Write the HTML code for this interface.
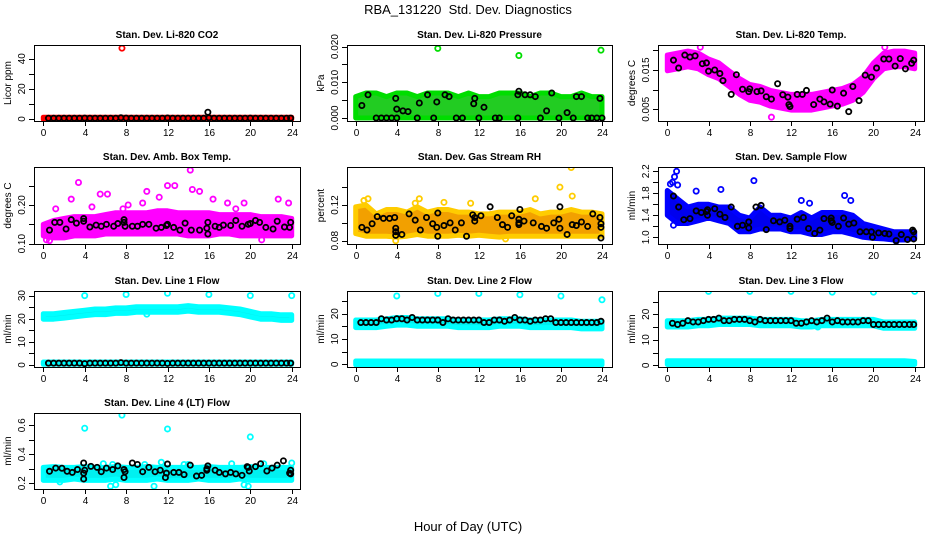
<!DOCTYPE html>
<html><head><meta charset="utf-8"><style>
html,body{margin:0;padding:0;background:#fff}
svg{display:block;font-family:"Liberation Sans",Arial,sans-serif}
</style></head><body>
<svg id="chart" width="936" height="540" viewBox="0 0 936 540">
<text x="468" y="14" text-anchor="middle" font-size="13">RBA_131220&#160; Std. Dev. Diagnostics</text>
<text x="468" y="531" text-anchor="middle" font-size="13">Hour of Day (UTC)</text>
</svg>
<script>
// ---------- data ----------
const hours = [0,1,2,3,4,5,6,7,8,9,10,11,12,13,14,15,16,17,18,19,20,21,22,23,24];
const halfHours = [0.5,1,1.5,2,2.5,3,3.5,4,4.5,5,5.5,6,6.5,7,7.5,8,8.5,9,9.5,10,10.5,11,11.5,12,12.5,13,13.5,14,14.5,15,15.5,16,16.5,17,17.5,18,18.5,19,19.5,20,20.5,21,21.5,22,22.5,23,23.5,23.9];
const xTicks = [0,4,8,12,16,20,24];

// CO2
const co2Lo = [-0.3,-0.3,-0.3,-0.3,-0.3,-0.3,-0.3,-0.3,-0.3,-0.3,-0.3,-0.3,-0.3,-0.3,-0.3,-0.3,-0.3,-0.3,-0.3,-0.3,-0.3,-0.3,-0.3,-0.3,-0.3];
const co2Hi = [1.2,1.2,1.2,1.2,1.2,1.2,1.2,1.2,1.2,1.2,1.2,1.2,1.2,1.2,1.2,1.2,1.2,1.2,1.2,1.2,1.2,1.2,1.2,1.2,1.2];
const co2OutX = [7.6]; const co2OutY = [47];
const co2BlackX = halfHours.concat([15.9]);
const co2BlackY = [0.5,0.5,0.5,0.5,0.5,0.5,0.5,0.6,0.5,0.5,0.5,0.5,0.5,0.5,0.8,0.6,0.5,0.5,0.5,0.5,0.5,0.5,0.5,0.7,0.5,0.5,0.5,0.5,0.5,0.5,0.5,0.8,0.5,0.5,0.5,0.5,0.5,0.5,0.5,0.6,0.5,0.5,0.5,0.5,0.5,0.5,0.5,0.6,4.5];

// Pressure
const prLo = [0,0,0,0,0,0,0,0,0,0,0,0,0,0,0,0,0,0,0,0,0,0,0,0,0];
const prHi = [0.006,0.007,0.007,0.006,0.007,0.007,0.006,0.007,0.007,0.007,0.006,0.007,0.006,0.006,0.007,0.007,0.007,0.006,0.007,0.007,0.006,0.006,0.007,0.006,0.006];
const prOutX = [8,15.9,23.9]; const prOutY = [0.0195,0.0175,0.019];
const prBlackX = [2,2.5,3,3.5,4,6,7.6,9.8,10.4,12,13.6,14,15.8,18,19.8,21.2,22.6,23,23.5,24,0.6,1.2,3.9,4,4.6,5.1,6.2,7,7.9,8.7,9.1,11.5,11.6,12.5,15.9,15.8,16.5,17,17.5,18.6,19.1,20.6,21.5,22,23.8];
const prBlackY = [0,0,0,0,0,0,0,0,0,0,0,0,0,0,0,0,0,0,0,0,0.0035,0.0065,0.0055,0.0025,0.002,0.0018,0.0042,0.0065,0.0045,0.0065,0.006,0.004,0.0055,0.003,0.0075,0.0065,0.0065,0.0065,0.006,0.002,0.007,0.0015,0.006,0.006,0.0055];

// Li-820 temp
const ltLo = [0.0148,0.0153,0.0158,0.0153,0.0138,0.0128,0.0108,0.0088,0.0073,0.0068,0.0058,0.0053,0.0048,0.0048,0.0048,0.0053,0.0058,0.0063,0.0073,0.0093,0.0128,0.0153,0.0158,0.0158,0.0153];
const ltHi = [0.0188,0.0193,0.0198,0.0193,0.0178,0.0168,0.0148,0.0128,0.0113,0.0108,0.0098,0.0093,0.0088,0.0088,0.0088,0.0093,0.0098,0.0103,0.0113,0.0133,0.0168,0.0193,0.0198,0.0198,0.0193];
const ltOutX = [10.1,3.2,21.1]; const ltOutY = [0.003,0.0208,0.0208];
const ltBlackX = [0.6,1.1,1.7,2.2,2.7,3.4,3.8,4,4.6,5.1,5.4,6.2,6.7,7.3,7.9,8,8.7,9.1,9.6,10.1,10.7,11.2,11.7,11.8,11.9,12.6,13.1,13.5,14.2,14.8,15.2,15.8,16,16.5,17.1,17.6,18,18.6,19.2,19.8,20.3,21,21.5,22.1,22.6,23.1,23.7,23.9];
const ltBlackY = [0.0175,0.0155,0.0188,0.0183,0.0186,0.0166,0.0168,0.0147,0.015,0.0141,0.0123,0.0088,0.0138,0.0101,0.0095,0.0102,0.0095,0.0097,0.0082,0.0076,0.0115,0.0087,0.0081,0.0062,0.0057,0.0088,0.0088,0.0098,0.0062,0.0076,0.0069,0.0063,0.0099,0.0058,0.0091,0.0044,0.0108,0.0072,0.0137,0.0132,0.0155,0.0178,0.0178,0.016,0.0179,0.0153,0.0167,0.0175];

// Amb box temp
const abLo = [0.12,0.115,0.115,0.12,0.12,0.12,0.125,0.125,0.125,0.125,0.125,0.125,0.125,0.125,0.12,0.12,0.12,0.125,0.125,0.12,0.12,0.12,0.12,0.12,0.12];
const abHi = [0.15,0.16,0.165,0.17,0.17,0.17,0.175,0.18,0.18,0.18,0.18,0.185,0.185,0.18,0.18,0.18,0.18,0.175,0.175,0.175,0.175,0.17,0.17,0.17,0.165];
const abOutX = [3.4,14.2,5.5,6.2,10,12,12.7,14.4,15.1,2.7,0.3,7.7,9.6,22.7,23.7,19.4,17.8,21.1,0.6,1.2,4.7,8.2,11.2,16.4,18.6];
const abOutY = [0.258,0.29,0.228,0.228,0.235,0.25,0.25,0.24,0.235,0.215,0.11,0.19,0.205,0.215,0.205,0.205,0.205,0.11,0.108,0.19,0.195,0.2,0.22,0.215,0.19];
const abBlackX = [0.6,1.1,1.6,2.2,2.7,3.2,3.9,3.9,4.5,5.1,5.6,6.1,6.8,7.2,7.8,7.8,7.9,8.6,9.1,9.6,10.2,10.9,11.4,11.9,12,12.6,13.2,13.7,14.3,15.1,15.8,15.9,15.9,16.6,17,17.4,18.1,18.6,19.2,19.8,20,20.5,20.9,21.5,22.2,22.6,23.3,23.9,23.8];
const abBlackY = [0.135,0.155,0.155,0.138,0.162,0.153,0.165,0.158,0.143,0.148,0.145,0.15,0.145,0.152,0.162,0.155,0.145,0.145,0.145,0.15,0.15,0.14,0.142,0.147,0.15,0.142,0.135,0.153,0.135,0.135,0.14,0.155,0.125,0.145,0.142,0.148,0.147,0.16,0.145,0.15,0.152,0.16,0.155,0.142,0.138,0.158,0.143,0.155,0.142];

// RH
const rhLo = [0.088,0.085,0.085,0.085,0.084,0.085,0.087,0.085,0.085,0.085,0.086,0.085,0.086,0.085,0.084,0.085,0.085,0.085,0.085,0.085,0.085,0.085,0.085,0.085,0.085];
const rhHi = [0.118,0.12,0.11,0.115,0.115,0.112,0.118,0.112,0.115,0.115,0.112,0.112,0.11,0.11,0.112,0.112,0.112,0.115,0.11,0.112,0.112,0.115,0.112,0.112,0.11];
const rhOutX = [0.8,6.2,21,19.9,21.1,17.5,14.6,3.9,11.2,8.6,1.2,5.8];
const rhOutY = [0.125,0.127,0.162,0.14,0.13,0.127,0.082,0.08,0.122,0.123,0.127,0.122];
const rhBlackX = [0.6,1.1,1.6,2.1,2.7,3.3,3.8,3.9,3.9,3.9,4.5,5.2,5.8,6.3,6.9,7.5,7.9,8,8,8.6,9.2,9.7,10.3,10.8,11.4,11.6,11.6,12.2,13.1,13.8,14.3,14.8,15.2,15.9,15.9,15.9,16,16.4,17.3,18.1,18.6,19.3,19.8,19.9,19.9,20.6,21.1,21.5,22,22.6,23.1,23.8,23.9,23.9,23.9];
const rhBlackY = [0.095,0.092,0.099,0.107,0.105,0.105,0.106,0.094,0.086,0.09,0.087,0.11,0.103,0.092,0.106,0.099,0.095,0.111,0.085,0.097,0.1,0.092,0.1,0.085,0.109,0.106,0.102,0.108,0.118,0.106,0.098,0.095,0.108,0.104,0.1,0.098,0.115,0.102,0.1,0.096,0.094,0.1,0.104,0.118,0.094,0.087,0.098,0.097,0.101,0.096,0.11,0.106,0.099,0.095,0.083];

// Sample flow
const sfLo = [1.4,1.25,1.25,1.3,1.35,1.3,1.25,1.1,1.1,1.15,1.15,1.15,1.1,1.1,1.05,1.05,1.1,1.1,1.05,1.0,0.98,0.97,0.95,0.95,0.98];
const sfHi = [1.85,1.7,1.55,1.6,1.6,1.55,1.55,1.4,1.35,1.55,1.4,1.4,1.35,1.45,1.35,1.45,1.45,1.45,1.4,1.25,1.2,1.15,1.1,1.1,1.1];
const sfOutX = [0.7,0.9,8.4,5.2,2.8,13,13.8,17.2,17.8,0.6,22.2,0.3,0.5,1.0];
const sfOutY = [2.1,2.2,2.03,1.87,1.84,1.67,1.62,1.76,1.67,1.22,0.93,1.97,2.0,1.95];
const sfBlackX = [0.6,1.1,1.6,2.2,2.8,3.3,3.8,3.9,3.9,4.6,5.1,5.6,6.2,6.8,7.3,7.9,7.9,8.6,9.1,9.6,10.3,10.9,11.4,11.9,11.9,12.6,13.2,13.7,14.3,14.8,15.2,15.9,15.9,16,16.6,17.1,17.6,18.1,18.7,19.3,19.8,19.9,20.5,21.1,21.5,22.2,22.7,23.3,23.8,23.9,23.9];
const sfBlackY = [1.75,1.55,1.32,1.34,1.48,1.45,1.47,1.5,1.4,1.52,1.42,1.36,1.55,1.2,1.22,1.28,1.17,1.55,1.58,1.14,1.3,1.28,1.31,1.2,1.16,1.33,1.36,1.16,1.07,1.13,1.34,1.35,1.3,1.27,1.2,1.35,1.24,1.26,1.1,1.1,1.1,1.0,1.08,1.07,1.06,0.94,1.05,0.96,1.13,1.1,0.97];

// Line 1
const l1Lo = [19.8,19.8,20.3,20.8,21.3,21.8,21.8,22.3,22.3,22.8,22.8,22.8,22.8,22.8,23.3,22.8,22.8,22.8,22.3,21.8,20.8,19.8,19.8,19.3,19.3];
const l1Hi = [22.2,22.2,22.7,23.2,23.7,24.2,24.2,24.7,24.7,25.2,25.2,25.2,25.2,25.2,25.7,25.2,25.2,25.2,24.7,24.2,23.2,22.2,22.2,21.7,21.7];
const l1Lo2 = [0.3,0.3,0.3,0.3,0.3,0.3,0.3,0.3,0.3,0.3,0.3,0.3,0.3,0.3,0.3,0.3,0.3,0.3,0.3,0.3,0.3,0.3,0.3,0.3,0.3];
const l1Hi2 = [1.3,1.3,1.3,1.3,1.3,1.3,1.3,1.3,1.3,1.3,1.3,1.3,1.3,1.3,1.3,1.3,1.3,1.3,1.3,1.3,1.3,1.3,1.3,1.3,1.3];
const l1OutX = [4,8,12,16,20,24,10]; const l1OutY = [30,30.5,31,30.5,30,30,22];
const l1BlackX = halfHours;
const l1BlackY = [0.8,0.8,0.8,0.8,0.8,0.8,0.8,0.6,0.8,0.8,0.8,0.8,0.8,0.8,1.0,0.8,0.8,0.8,0.8,0.8,0.8,0.8,0.8,0.7,0.8,0.8,0.8,0.8,0.8,0.8,0.8,0.8,0.8,0.8,0.8,0.8,0.8,0.8,0.8,0.8,0.8,0.8,0.8,0.8,0.8,0.8,0.8,0.8];

// Line 2
const l2Lo = [14.5,14.5,14.5,15,15.5,15.5,15,15,15,15,14.5,14.5,14.5,14.5,15,15,15,14.5,14.5,14.5,14.5,14.5,14,14,14];
const l2Hi = [17.5,17.5,17.5,18,18.5,18.5,18,18,18,18,17.5,17.5,17.5,17.5,18,18,18,17.5,17.5,17.5,17.5,17.5,17,17,17];
const l2Lo2 = [-0.2,-0.2,-0.2,-0.2,-0.2,-0.2,-0.2,-0.2,-0.2,-0.2,-0.2,-0.2,-0.2,-0.2,-0.2,-0.2,-0.2,-0.2,-0.2,-0.2,-0.2,-0.2,-0.2,-0.2,-0.2];
const l2Hi2 = [1.3,1.3,1.3,1.3,1.3,1.3,1.3,1.3,1.3,1.3,1.3,1.3,1.3,1.3,1.3,1.3,1.3,1.3,1.3,1.3,1.3,1.3,1.3,1.3,1.3];
const l2OutX = [4,8,12,16,20,24]; const l2OutY = [27,28,28,27.5,27,25.5];
const l2BlackX = halfHours;
const l2BlackY = [16.5,16.5,16.5,16.5,18,17.5,17.5,18,18,17.5,18.5,17.5,17.5,17.5,17.5,17.5,16.5,18,17.5,17.5,17.5,17.5,17.5,17.5,16.5,16.5,17.5,17.5,17,17.5,18.5,17.5,17.5,17,17.5,17.5,18,18,16.5,16.5,16.5,16.5,16.5,16.5,16.5,16.5,16.5,17];

// Line 3
const l3Lo = [15,15,15,15.5,15.5,16,16,16,16,15.5,15.5,15.5,15.5,15,15,15.5,15.5,15.5,15.5,15.5,15.5,14.5,14.5,14.5,14.5];
const l3Hi = [17.5,17.5,17.5,18,18,18.5,18.5,18.5,18.5,18,18,18,18,17.5,17.5,18,18,18,18,18,18,17,17,17,17];
const l3Lo2 = [0.3,0.3,0.3,0.3,0.3,0.3,0.3,0.3,0.3,0.3,0.3,0.3,0.3,0.3,0.3,0.3,0.3,0.3,0.3,0.3,0.3,0.3,0.3,0.3,0.3];
const l3Hi2 = [1.8,1.8,1.8,1.8,1.8,1.8,1.8,1.8,1.8,1.8,1.8,1.8,1.8,1.8,1.8,1.8,1.8,1.8,1.8,1.8,1.8,1.8,1.8,1.8,1.5];
const l3OutX = [4,8,12,16,20,24,14.6]; const l3OutY = [29,29,29,28.7,28.7,29,15];
const l3BlackX = halfHours;
const l3BlackY = [16.5,16,16.5,17.5,17,17,17.5,18,18,18.5,17.5,17.5,18,18,18,17.5,17,18,17.5,17.5,17.5,17.5,17.5,17.5,16.5,16.5,17,17.5,17,17.5,18.5,17,17.5,17,17,17,17,17.5,17.5,16,16,16,16,16,16,16,16,16];

// Line 4
const l4Lo = [0.22,0.22,0.22,0.23,0.22,0.22,0.22,0.23,0.22,0.22,0.22,0.23,0.22,0.22,0.22,0.23,0.22,0.22,0.22,0.23,0.22,0.22,0.22,0.22,0.22];
const l4Hi = [0.31,0.315,0.31,0.31,0.315,0.31,0.31,0.315,0.31,0.31,0.315,0.31,0.31,0.31,0.31,0.31,0.315,0.31,0.31,0.31,0.315,0.31,0.31,0.31,0.31];
const l4OutX = [4,7.6,12,20,5.8,6.7,9.8,14,18.2,21.3,24,6.5,7,10.7,19.4,19.8,1.6,11.4,13.6];
const l4OutY = [0.58,0.67,0.575,0.52,0.335,0.33,0.33,0.33,0.335,0.335,0.34,0.18,0.19,0.18,0.19,0.18,0.21,0.345,0.33];
const l4BlackX = [0.6,1.2,1.8,2.3,2.8,3.3,3.9,3.9,4,3.9,4.6,5.2,5.6,6.1,6.7,7.2,7.8,7.9,7.8,8.6,9.1,9.6,10.2,10.8,11.3,11.8,11.9,12,12.6,13.1,13.6,14.2,14.8,15.3,15.8,15.9,15.8,16.6,17,17.6,18.1,18.6,19.2,19.7,19.8,19.9,20.5,21,21.6,22.1,22.6,23.2,23.9,23.9,23.8];
const l4BlackY = [0.283,0.305,0.304,0.283,0.275,0.295,0.34,0.27,0.29,0.23,0.317,0.31,0.28,0.305,0.295,0.32,0.295,0.28,0.24,0.34,0.33,0.28,0.31,0.28,0.29,0.24,0.27,0.333,0.275,0.275,0.26,0.325,0.25,0.255,0.3,0.32,0.29,0.29,0.275,0.265,0.275,0.265,0.255,0.315,0.31,0.285,0.315,0.335,0.285,0.305,0.325,0.355,0.265,0.29,0.27];

// ---------- layout / drawing ----------
const NS = 'http://www.w3.org/2000/svg';
const svg = document.getElementById('chart');
const cols = [{L:34,R:300,x0:43.3,x24:291.7},{L:347,R:612,x0:355.7,x24:602},{L:658,R:924,x0:667.3,x24:914.7}];
const rows = [{T:45,B:121},{T:167,B:244},{T:291,B:367},{T:413,B:489}];

const panels = [
 {id:'co2',title:'Stan. Dev. Li-820 CO2',ylab:'Licor ppm',c:0,r:0,ymin:-1.33,ymax:49.1,ticks:[0,10,20,30,40],labs:[0,20,40],fmt:0,color:'#ff0000',fill:'#ff0000',bands:[[co2Lo,co2Hi]],ox:co2OutX,oy:co2OutY,bx:co2BlackX,by:co2BlackY},
 {id:'pressure',title:'Stan. Dev. Li-820 Pressure',ylab:'kPa',c:1,r:0,ymin:-0.00084,ymax:0.02045,ticks:[0,0.005,0.01,0.015,0.02],labs:[0,0.01,0.02],fmt:3,color:'#00dd00',fill:'#22cc22',bands:[[prLo,prHi]],ox:prOutX,oy:prOutY,bx:prBlackX,by:prBlackY},
 {id:'li820-temp',title:'Stan. Dev. Li-820 Temp.',ylab:'degrees C',c:2,r:0,ymin:0.00202,ymax:0.02136,ticks:[0.005,0.01,0.015,0.02],labs:[0.005,0.015],fmt:3,color:'#ff00ff',fill:'#ff00ff',bands:[[ltLo,ltHi]],ox:ltOutX,oy:ltOutY,bx:ltBlackX,by:ltBlackY},
 {id:'amb-box-temp',title:'Stan. Dev. Amb. Box Temp.',ylab:'degrees C',c:0,r:1,ymin:0.0992,ymax:0.298,ticks:[0.1,0.15,0.2,0.25],labs:[0.1,0.2],fmt:2,color:'#ff00ff',fill:'#ff00ff',bands:[[abLo,abHi]],ox:abOutX,oy:abOutY,bx:abBlackX,by:abBlackY},
 {id:'gas-stream-rh',title:'Stan. Dev. Gas Stream RH',ylab:'percent',c:1,r:1,ymin:0.0763,ymax:0.1626,ticks:[0.08,0.1,0.12,0.14],labs:[0.08,0.12],fmt:2,color:'#ffcc00',fill:'#f2a000',bands:[[rhLo,rhHi]],ox:rhOutX,oy:rhOutY,bx:rhBlackX,by:rhBlackY},
 {id:'sample-flow',title:'Stan. Dev. Sample Flow',ylab:'ml/min',c:2,r:1,ymin:0.878,ymax:2.278,ticks:[1.0,1.2,1.4,1.6,1.8,2.0,2.2],labs:[1.0,1.4,1.8,2.2],fmt:1,color:'#0000ff',fill:'#0000ee',bands:[[sfLo,sfHi]],ox:sfOutX,oy:sfOutY,bx:sfBlackX,by:sfBlackY},
 {id:'line1-flow',title:'Stan. Dev. Line 1 Flow',ylab:'ml/min',c:0,r:2,ymin:-0.87,ymax:32.0,ticks:[0,5,10,15,20,25,30],labs:[0,10,20,30],fmt:0,color:'#00ffff',fill:'#00f0f0',bands:[[l1Lo,l1Hi],[l1Lo2,l1Hi2]],ox:l1OutX,oy:l1OutY,bx:l1BlackX,by:l1BlackY},
 {id:'line2-flow',title:'Stan. Dev. Line 2 Flow',ylab:'ml/min',c:1,r:2,ymin:-1.07,ymax:28.97,ticks:[0,5,10,15,20,25],labs:[0,10,20],fmt:0,color:'#00ffff',fill:'#00f0f0',bands:[[l2Lo,l2Hi],[l2Lo2,l2Hi2]],ox:l2OutX,oy:l2OutY,bx:l2BlackX,by:l2BlackY},
 {id:'line3-flow',title:'Stan. Dev. Line 3 Flow',ylab:'ml/min',c:2,r:2,ymin:-0.67,ymax:29.14,ticks:[0,5,10,15,20,25],labs:[0,10,20],fmt:0,color:'#00ffff',fill:'#00f0f0',bands:[[l3Lo,l3Hi],[l3Lo2,l3Hi2]],ox:l3OutX,oy:l3OutY,bx:l3BlackX,by:l3BlackY},
 {id:'line4-flow',title:'Stan. Dev. Line 4 (LT) Flow',ylab:'ml/min',c:0,r:3,ymin:0.1607,ymax:0.685,ticks:[0.2,0.3,0.4,0.5,0.6],labs:[0.2,0.4,0.6],fmt:1,color:'#00ffff',fill:'#00f0f0',bands:[[l4Lo,l4Hi]],ox:l4OutX,oy:l4OutY,bx:l4BlackX,by:l4BlackY}
];

function mk(tag, attrs, parent){
  const e = document.createElementNS(NS, tag);
  for (const k in attrs) e.setAttribute(k, attrs[k]);
  (parent||svg).appendChild(e);
  return e;
}

panels.forEach(p => {
  const C = cols[p.c], R = rows[p.r];
  const xs = v => C.x0 + (C.x24 - C.x0) * v / 24;
  const ys = v => R.B - (R.B - R.T) * (v - p.ymin) / (p.ymax - p.ymin);
  const g = mk('g', {});
  
  
  const clipId = 'clip-' + p.id;
  const cp = mk('clipPath', {id: clipId}, g);
  mk('rect', {x: C.L, y: R.T, width: C.R - C.L, height: R.B - R.T}, cp);
  const plot = mk('g', {'clip-path': 'url(#' + clipId + ')'}, g);

  p.bands.forEach((b, bi) => {
    const lo = b[0], hi = b[1];
    let d = '';
    hours.forEach((h, i) => { d += (i ? 'L' : 'M') + xs(h).toFixed(1) + ',' + ys(hi[i]).toFixed(1); });
    for (let i = hours.length - 1; i >= 0; i--) d += 'L' + xs(hours[i]).toFixed(1) + ',' + ys(lo[i]).toFixed(1);
    const band = mk('path', {d: d + 'Z', fill: p.fill, stroke: p.color, 'stroke-width': 5, 'stroke-linejoin': 'round'}, plot);
    
    
  });
  p.ox.forEach((x, i) => {
    const c = mk('circle', {cx: xs(x), cy: ys(p.oy[i]), r: 2.6, fill: 'none', stroke: p.color, 'stroke-width': 1.8}, plot);
    
    
  });
  p.bx.forEach((x, i) => {
    const c = mk('circle', {cx: xs(x), cy: ys(p.by[i]), r: 2.6, fill: 'none', stroke: '#000', 'stroke-width': 1.8}, plot);
    
    
  });

  const box = mk('rect', {x: C.L + 0.5, y: R.T + 0.5, width: C.R - C.L, height: R.B - R.T, fill: 'none', stroke: '#000', 'stroke-width': 1}, g);
  
  

  xTicks.forEach(t => {
    const x = Math.round(xs(t)) + 0.5;
    mk('line', {x1: x, x2: x, y1: R.B, y2: R.B + 5, stroke: '#000'}, g);
    const tl = mk('text', {x: x, y: R.B + 15, 'text-anchor': 'middle', 'font-size': 10}, g);
    tl.textContent = t;
    
    
  });
  p.ticks.forEach(t => {
    const y = Math.round(ys(t)) + 0.5;
    mk('line', {x1: C.L - 5, x2: C.L, y1: y, y2: y, stroke: '#000'}, g);
  });
  p.labs.forEach(t => {
    const y = ys(t), x = C.L - 9;
    const tl = mk('text', {x: x, y: y, 'text-anchor': 'middle', 'font-size': 10, transform: 'rotate(-90 ' + x + ' ' + y + ')'}, g);
    tl.textContent = t.toFixed(p.fmt);
    
    
  });
  const ylx = C.L - 23, yly = (R.T + R.B) / 2;
  const yl = mk('text', {x: ylx, y: yly, 'text-anchor': 'middle', 'font-size': 10, transform: 'rotate(-90 ' + ylx + ' ' + yly + ')'}, g);
  yl.textContent = p.ylab;
  
  
  const tt = mk('text', {x: (C.L + C.R) / 2, y: R.T - 7, 'text-anchor': 'middle', 'font-size': 10, 'font-weight': 'bold'}, g);
  tt.textContent = p.title;
  
  
});
</script>
</body></html>
